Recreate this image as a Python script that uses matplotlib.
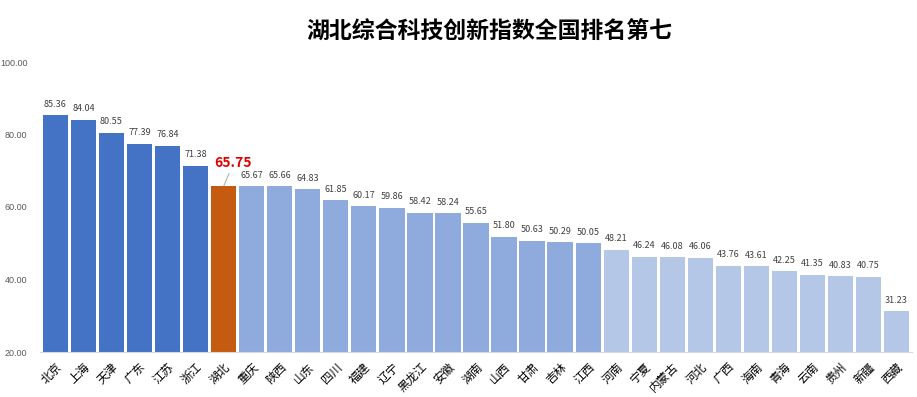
import matplotlib
matplotlib.use("Agg")
import matplotlib.pyplot as plt

plt.rcParams['font.family'] = ['Noto Sans CJK SC', 'DejaVu Sans']

provinces = ['北京', '上海', '天津', '广东', '江苏', '浙江', '湖北', '重庆', '陕西', '山东',
             '四川', '福建', '辽宁', '黑龙江', '安徽', '湖南', '山西', '甘肃', '吉林', '江西',
             '河南', '宁夏', '内蒙古', '河北', '广西', '海南', '青海', '云南', '贵州', '新疆', '西藏']
scores = [85.36, 84.04, 80.55, 77.39, 76.84, 71.38, 65.75, 65.67, 65.66, 64.83,
          61.85, 60.17, 59.86, 58.42, 58.24, 55.65, 51.80, 50.63, 50.29, 50.05,
          48.21, 46.24, 46.08, 46.06, 43.76, 43.61, 42.25, 41.35, 40.83, 40.75, 31.23]
score_labels = ['85.36', '84.04', '80.55', '77.39', '76.84', '71.38', '65.75', '65.67', '65.66', '64.83',
                '61.85', '60.17', '59.86', '58.42', '58.24', '55.65', '51.80', '50.63', '50.29', '50.05',
                '48.21', '46.24', '46.08', '46.06', '43.76', '43.61', '42.25', '41.35', '40.83', '40.75', '31.23']
# 分组: 前六 / 湖北 / 中段 / 后段
groups = [0] * 6 + [1] + [2] * 13 + [3] * 11
group_colors = ['#4472C4', '#C55A11', '#8FAADC', '#B4C7E7']
hubei = 6

fig = plt.figure(figsize=(9.17, 3.97), dpi=100)
ax = fig.add_axes([40 / 917, 45 / 397, 872 / 917, 290 / 397])

x = list(range(len(provinces)))
colors = [group_colors[g] for g in groups]
ax.bar(x, [s - 20 for s in scores], bottom=20, width=0.9, color=colors)

for i, (v, lab) in enumerate(zip(scores, score_labels)):
    if i == hubei:
        ax.annotate(lab, xy=(i, v), xytext=(i + 0.35, v + 6.4),
                    ha='center', va='center', color='#E00000', fontsize=10, fontweight='bold',
                    arrowprops=dict(arrowstyle='-', color='#A6A6A6', lw=0.7, shrinkA=0.5, shrinkB=0.5))
    else:
        ax.text(i, v + 1.8, lab, ha='center', va='bottom', fontsize=6.5, color='#404040')

ax.set_xlim(-0.55, len(provinces) - 0.45)
ax.set_ylim(20, 100)
ax.set_yticks([20, 40, 60, 80, 100])
ax.set_yticklabels(['20.00', '40.00', '60.00', '80.00', '100.00'], fontsize=6.5, color='#595959',
                   family=['Liberation Sans', 'DejaVu Sans'])
ax.set_xticks(x)
ax.set_xticklabels(provinces, rotation=45, ha='right', va='top', rotation_mode='anchor', fontsize=8.5)
ax.tick_params(length=0)
ax.tick_params(axis='y', pad=9)
ax.tick_params(axis='x', pad=6)
for s in ['top', 'right', 'left']:
    ax.spines[s].set_visible(False)
ax.spines['bottom'].set_color('#D9D9D9')

fig.text(489 / 917, 1 - 32 / 397, '湖北综合科技创新指数全国排名第七', ha='center', va='center',
         fontsize=16.5, fontweight='bold')

fig.savefig('out.png', dpi=100)
